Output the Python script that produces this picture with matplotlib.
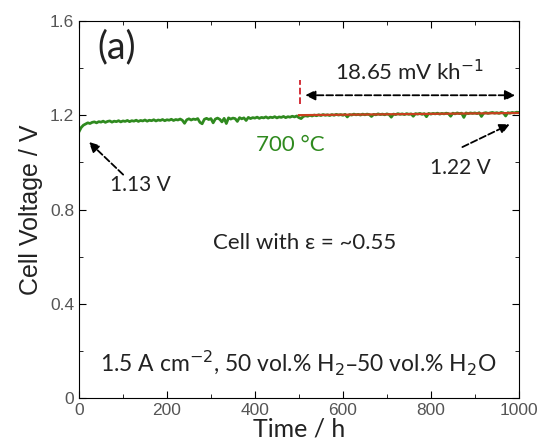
import matplotlib.pyplot as plt
import numpy as np
from matplotlib.ticker import MultipleLocator

# durability test (time in h, voltage in V), one point every 5 h
time_h = np.arange(0, 1001, 5)
voltage = [
    1.130, 1.148, 1.158, 1.163, 1.168, 1.165, 1.170, 1.172, 1.168, 1.173,
    1.171, 1.175, 1.170, 1.174, 1.176, 1.171, 1.175, 1.173, 1.177, 1.172,
    1.176, 1.174, 1.178, 1.173, 1.177, 1.175, 1.179, 1.174, 1.178, 1.176,
    1.180, 1.175, 1.179, 1.177, 1.181, 1.176, 1.180, 1.178, 1.182, 1.177,
    1.181, 1.179, 1.183, 1.178, 1.182, 1.180, 1.184, 1.179, 1.166, 1.181,
    1.185, 1.180, 1.184, 1.182, 1.186, 1.170, 1.164, 1.183, 1.187, 1.182,
    1.186, 1.168, 1.184, 1.188, 1.183, 1.172, 1.187, 1.165, 1.189, 1.184,
    1.188, 1.186, 1.174, 1.190, 1.185, 1.189, 1.178, 1.191, 1.186, 1.190,
    1.188, 1.192, 1.187, 1.191, 1.189, 1.193, 1.188, 1.192, 1.190, 1.194,
    1.189, 1.193, 1.191, 1.195, 1.190, 1.194, 1.192, 1.196, 1.193, 1.197,
    1.190, 1.186, 1.195, 1.198, 1.196, 1.200, 1.197, 1.201, 1.198, 1.202,
    1.199, 1.203, 1.200, 1.202, 1.199, 1.203, 1.200, 1.204, 1.201, 1.203,
    1.200, 1.204, 1.193, 1.203, 1.201, 1.205, 1.202, 1.204, 1.201, 1.205,
    1.202, 1.205, 1.203, 1.195, 1.204, 1.202, 1.206, 1.203, 1.205, 1.202,
    1.206, 1.203, 1.192, 1.205, 1.203, 1.207, 1.204, 1.206, 1.203, 1.207,
    1.204, 1.206, 1.196, 1.207, 1.205, 1.208, 1.204, 1.207, 1.194, 1.208,
    1.205, 1.208, 1.206, 1.209, 1.205, 1.208, 1.206, 1.209, 1.207, 1.196,
    1.209, 1.206, 1.210, 1.207, 1.209, 1.191, 1.210, 1.207, 1.210, 1.208,
    1.210, 1.207, 1.211, 1.195, 1.209, 1.211, 1.208, 1.210, 1.212, 1.209,
    1.211, 1.208, 1.212, 1.210, 1.197, 1.211, 1.209, 1.212, 1.210, 1.213,
    1.212,
]

# linear fit over the second half
fit_t = [500, 1000]
fit_v = [1.2005, 1.2098]

fig = plt.figure(figsize=(5.41, 4.44), dpi=100)
ax = fig.add_axes([0.146, 0.1036, 0.813, 0.849])

ax.plot(time_h, voltage, color='#2f8a1f', lw=2.0)
ax.plot(fit_t, fit_v, color='#c8401e', lw=1.6)
ax.plot([502, 502], [1.25, 1.35], color='#d0202a', lw=1.3, ls='--')

ax.set_xlim(0, 1000)
ax.set_ylim(0, 1.6)
ax.set_xticks([0, 200, 400, 600, 800, 1000])
ax.set_yticks([0, 0.4, 0.8, 1.2, 1.6])
ax.set_yticklabels(['0', '0.4', '0.8', '1.2', '1.6'])
ax.xaxis.set_minor_locator(MultipleLocator(100))
ax.yaxis.set_minor_locator(MultipleLocator(0.2))
ax.tick_params(which='both', direction='in', top=True, right=True, labelsize=12.5,
               labelfontfamily='Liberation Sans', labelcolor='#555555')
ax.tick_params(which='major', length=5)
ax.tick_params(which='minor', length=3)

ax.set_xlabel('Time / h', fontsize=18, family='Lato', color='#222222', labelpad=0)
ax.set_ylabel('Cell Voltage / V', fontsize=18, family='Liberation Sans',
              color='#222222', labelpad=5)

tfont = dict(family='Lato', color='#222222')
ax.text(42, 1.49, '(a)', fontsize=27, ha='left', va='center', **tfont)
ax.text(752, 1.385, '18.65 mV kh$^{\u22121}$', fontsize=16, ha='center', va='center', **tfont)
ax.text(480, 1.075, '700 \u00b0C', fontsize=16, ha='center', va='center',
        family='Lato', color='#2f8a1f')
ax.text(140, 0.905, '1.13 V', fontsize=15, ha='center', va='center', **tfont)
ax.text(866, 0.975, '1.22 V', fontsize=15, ha='center', va='center', **tfont)
ax.text(514, 0.66, 'Cell with \u03b5 = ~0.55', fontsize=16, ha='center', va='center', **tfont)
ax.text(498, 0.15, '1.5 A cm$^{\u22122}$, 50 vol.% H$_2$\u201350 vol.% H$_2$O',
        fontsize=16.5, ha='center', va='center', **tfont)

arrow = dict(arrowstyle='-|>', linestyle='--', lw=1.3, color='k', mutation_scale=15)
ax.annotate('', xy=(18, 1.095), xytext=(105, 0.94), arrowprops=arrow)
ax.annotate('', xy=(985, 1.167), xytext=(866, 1.06), arrowprops=arrow)
ax.annotate('', xy=(998, 1.285), xytext=(508, 1.285),
            arrowprops=dict(arrowstyle='<|-|>', linestyle='--', lw=1.3, color='k',
                            mutation_scale=15))

fig.savefig('out.png', dpi=100)
